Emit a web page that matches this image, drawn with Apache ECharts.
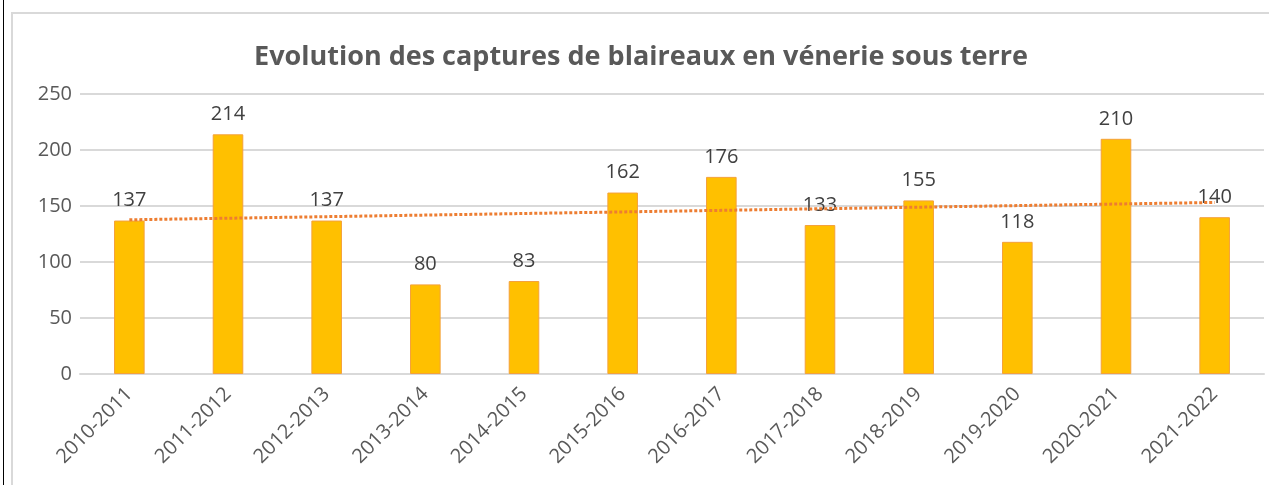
<!DOCTYPE html>
<html>
<head>
<meta charset="utf-8">
<script src="https://cdn.jsdelivr.net/npm/echarts@6/dist/echarts.min.js"></script>
<style>
  html, body { margin: 0; padding: 0; background: #fff; }
  #frame { position: absolute; left: 3px; top: 0; width: 1266px; height: 485px; border-left: 1.5px solid #000; }
  #chart { position: absolute; left: 11px; top: 12px; width: 1258px; height: 473px; border-left: 2px solid #d9d9d9; border-top: 2px solid #d9d9d9; box-sizing: border-box; }
</style>
</head>
<body>
<div id="frame"></div>
<div id="chart"></div>
<script>
var seasons = ['2010-2011', '2011-2012', '2012-2013', '2013-2014', '2014-2015', '2015-2016',
               '2016-2017', '2017-2018', '2018-2019', '2019-2020', '2020-2021', '2021-2022'];
var captures = [137, 214, 137, 80, 83, 162, 176, 133, 155, 118, 210, 140];
var yTicks = [0, 50, 100, 150, 200, 250];

// linear trend (least squares) like Excel's trendline
function trend(vals) {
	var n = vals.length, sx = 0, sy = 0, sxy = 0, sxx = 0;
	for (var i = 0; i < n; i++) {
		sx += i; sy += vals[i]; sxy += i * vals[i]; sxx += i * i;
	}
	var b = (n * sxy - sx * sy) / (n * sxx - sx * sx);
	var a = (sy - b * sx) / n;
	return vals.map(function(v, i) { return +(a + b * i).toFixed(2); });
}

var myChart = echarts.init(document.getElementById('chart'));
var font = '"Open Sans", sans-serif';
var option = {
	animation: false,
	title: {
		text: 'Evolution des captures de blaireaux en vénerie sous terre',
		left: 'center',
		top: 25,
		textStyle: { fontFamily: font, fontSize: 27, fontWeight: 'bold', color: '#595959' }
	},
	grid: { left: 67, right: 5, top: 80, bottom: 111, containLabel: false },
	xAxis: {
		type: 'category',
		data: seasons,
		axisLine: { lineStyle: { color: '#d9d9d9', width: 2 } },
		axisTick: { show: false },
		axisLabel: {
			rotate: 45,
			interval: 0,
			margin: 17,
			fontFamily: font,
			fontSize: 20,
			color: '#595959'
		}
	},
	yAxis: {
		type: 'value',
		min: yTicks[0],
		max: yTicks[yTicks.length - 1],
		interval: 50,
		axisLine: { show: false },
		axisTick: { show: false },
		splitLine: { lineStyle: { color: '#d9d9d9', width: 2 } },
		axisLabel: { fontFamily: font, fontSize: 20, color: '#595959', margin: 8 }
	},
	series: [
		{
			name: 'Captures',
			type: 'bar',
			data: captures,
			barWidth: '31%',
			itemStyle: { color: '#FFC000', borderColor: '#F4A13A', borderWidth: 1 },
			label: {
				show: true,
				position: 'top',
				distance: 10,
				fontFamily: font,
				fontSize: 20,
				color: '#404040'
			},
			z: 2
		},
		{
			name: 'Tendance',
			type: 'line',
			data: trend(captures),
			symbol: 'none',
			lineStyle: { color: '#ED7D31', width: 3, type: [3, 2] },
			z: 3
		}
	]
};
myChart.setOption(option);
</script>
</body>
</html>
